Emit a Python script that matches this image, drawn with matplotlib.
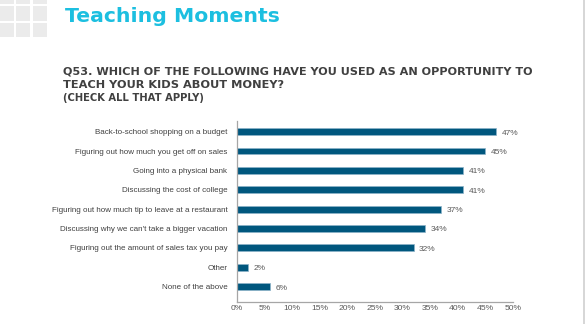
import matplotlib
matplotlib.use("Agg")
import matplotlib.pyplot as plt
from matplotlib.patches import Rectangle

plt.rcParams['font.family'] = ['Liberation Sans', 'DejaVu Sans']

categories = [
    "Back-to-school shopping on a budget",
    "Figuring out how much you get off on sales",
    "Going into a physical bank",
    "Discussing the cost of college",
    "Figuring out how much tip to leave at a restaurant",
    "Discussing why we can't take a bigger vacation",
    "Figuring out the amount of sales tax you pay",
    "Other",
    "None of the above",
]
values = [47, 45, 41, 41, 37, 34, 32, 2, 6]
x_ticks = [0, 5, 10, 15, 20, 25, 30, 35, 40, 45, 50]
x_tick_labels = [f"{t}%" for t in x_ticks]

title = "Teaching Moments"
question = ["Q53. WHICH OF THE FOLLOWING HAVE YOU USED AS AN OPPORTUNITY TO",
            "TEACH YOUR KIDS ABOUT MONEY?"]
note = "(CHECK ALL THAT APPLY)"

W, H = 585, 324
fig = plt.figure(figsize=(W / 100, H / 100), dpi=100)
fig.patch.set_facecolor("white")
renderer = fig.canvas.get_renderer()


def fx(px):
    return px / W


def fy(py):
    return 1 - py / H


def fitted_text(x_px, base_px, s, width_px, **kw):
    """Place left-aligned text on a baseline and scale it to a given pixel width."""
    t = fig.text(fx(x_px), fy(base_px), s, va="baseline", ha="left", fontsize=10, **kw)
    w = t.get_window_extent(renderer).width
    t.set_fontsize(10 * width_px / w)
    return t


# decorative tile block in the top-left corner
tile_col = "#ebebeb"
for x0, x1 in [(0, 14), (16, 30), (33, 47)]:
    for y0, y1 in [(-10, 4), (6, 21), (23, 37)]:
        fig.patches.append(Rectangle((fx(x0), fy(y1)), fx(x1 - x0), (y1 - y0) / H,
                                     transform=fig.transFigure, facecolor=tile_col,
                                     edgecolor="none", zorder=0))

# thin frame line on the right edge
fig.add_artist(plt.Line2D([fx(584), fx(584)], [0, 1], transform=fig.transFigure,
                          color="#d0d0d0", lw=1.2))

heavy = dict(fontweight="bold", family=["DejaVu Sans"])
fitted_text(65, 21.5, title, 214, color="#1cbfe0", **heavy)
fitted_text(63, 75, question[0], 474, color="#404040", **heavy)
fitted_text(63, 88.5, question[1], 223, color="#404040", **heavy)
fitted_text(63, 101, note, 141, color="#404040", **heavy)

ax = fig.add_axes([fx(237), fy(302), fx(513 - 237), (302 - 121) / H])
ypos = list(range(len(categories)))
ax.barh(ypos, values, height=0.36, color="#00577e", edgecolor="#8db3c9", linewidth=0.5)
for y, v in zip(ypos, values):
    ax.text(v + 1.0, y + 0.08, f"{v}%", va="center", ha="left", fontsize=6.0, color="#595959")

ax.set_xlim(0, 50)
ax.set_ylim(8.8, -0.55)
ax.set_yticks(ypos)
ax.set_yticklabels(categories, fontsize=5.75, color="#404040")
ax.set_xticks(x_ticks)
ax.set_xticklabels(x_tick_labels, fontsize=6.1, color="#595959")
ax.tick_params(axis="both", length=0)
ax.tick_params(axis="y", pad=7)
ax.tick_params(axis="x", pad=2.0)
for side in ["top", "right"]:
    ax.spines[side].set_visible(False)
for side in ["left", "bottom"]:
    ax.spines[side].set_color("#a6a6a6")
    ax.spines[side].set_linewidth(0.9)

fig.savefig("out.png", dpi=100)
